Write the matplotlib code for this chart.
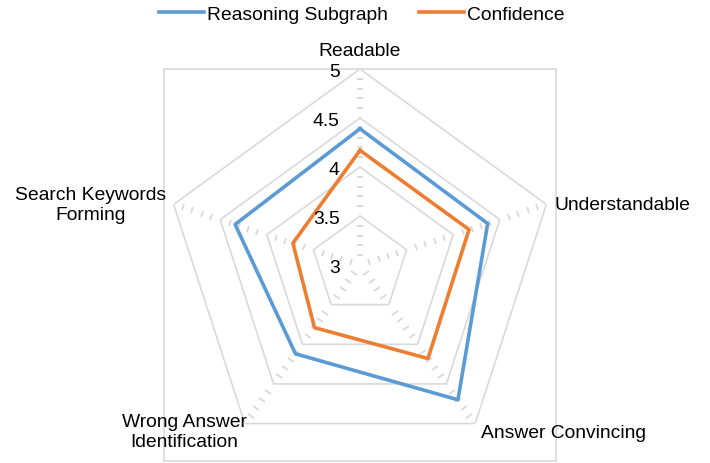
import numpy as np
import matplotlib
matplotlib.use("Agg")
import matplotlib.pyplot as plt
from matplotlib.markers import MarkerStyle
from matplotlib.transforms import Affine2D

plt.rcParams["font.family"] = ["Liberation Sans", "DejaVu Sans"]

categories = [
    "Readable",
    "Understandable",
    "Answer Convincing",
    "Wrong Answer\nIdentification",
    "Search Keywords\nForming",
]
reasoning_subgraph = [4.39, 4.37, 4.70, 4.12, 4.34]
confidence = [4.17, 4.17, 4.18, 3.79, 3.72]
rings = [3.5, 4.0, 4.5, 5.0]
tick_labels = ["3", "3.5", "4", "4.5", "5"]
tick_values = [3.0, 3.5, 4.0, 4.5, 5.0]

GRID = "#d9d9d9"
BLUE = "#5b9bd5"
ORANGE = "#ed7d31"
FS = 13.9


def closed(values):
    return list(values) + [values[0]]


fig = plt.figure(figsize=(7.1, 4.64), dpi=100)
rect = [164 / 710, 1 - 462 / 464, 392 / 710, 392 / 464]

# plot area frame
frame = fig.add_axes(rect, zorder=0)
frame.set_xticks([])
frame.set_yticks([])
frame.patch.set_alpha(0)
for sp in frame.spines.values():
    sp.set_color(GRID)
    sp.set_linewidth(1.2)

ax = fig.add_axes(rect, projection="polar", zorder=1)
ax.set_theta_offset(np.pi / 2)
ax.set_theta_direction(-1)
ax.set_ylim(3, 5)
ax.axis("off")

n = len(categories)
angles = np.linspace(0, 2 * np.pi, n, endpoint=False)
theta = closed(list(angles))

# pentagon grid rings
for r in rings:
    ax.plot(theta, [r] * (n + 1), color=GRID, lw=1.2, zorder=1)

# minor tick dashes along each spoke
minor = [v for v in np.arange(3.1, 5.0, 0.1) if abs(v * 2 - round(v * 2)) > 1e-6]
for a in angles:
    phi = 90 - np.degrees(a)
    m = MarkerStyle("_", transform=Affine2D().rotate_deg(phi + 90))
    ax.plot([a] * len(minor), minor, ls="none", marker=m, ms=5,
            mew=1.3, color=GRID, zorder=1)

# data series
l1, = ax.plot(theta, closed(reasoning_subgraph), color=BLUE, lw=2.6,
              label="Reasoning Subgraph", zorder=3)
l2, = ax.plot(theta, closed(confidence), color=ORANGE, lw=2.6,
              label="Confidence", zorder=3)

# value tick labels on the Readable spoke
for v, t in zip(tick_values, tick_labels):
    ax.annotate(t, xy=(0, v), xytext=(-14.5, -2), textcoords="offset points",
                ha="right", va="center", fontsize=FS, color="black")

# category labels
offsets = [(0, 13.5), (5.5, 0.2), (4.2, -6.2), (-43.8, -5.5), (-60, 0.2)]
aligns = ["center", "left", "left", "center", "center"]
for a, lab, off, ha in zip(angles, categories, offsets, aligns):
    ax.annotate(lab, xy=(a, 5), xytext=off, textcoords="offset points",
                ha=ha, va="center", multialignment="center",
                fontsize=FS, color="black", linespacing=1.25)

fig.legend(handles=[l1, l2], loc="center", bbox_to_anchor=(362 / 710, 1 - 15 / 464),
           ncol=2, frameon=False, fontsize=FS, handlelength=2.3,
           handletextpad=0.2, columnspacing=1.6)

plt.savefig("out.png", dpi=100)
